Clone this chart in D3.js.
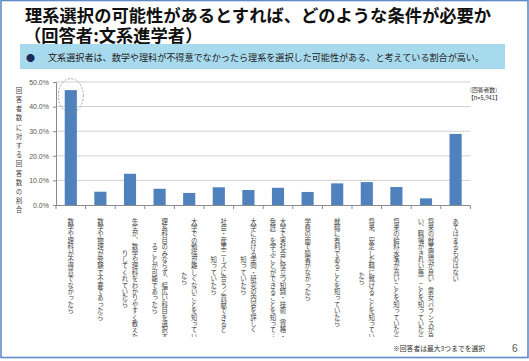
<!DOCTYPE html>
<html><head><meta charset="utf-8">
<script src="https://cdn.jsdelivr.net/npm/d3@7"></script>
<style>
html,body{margin:0;padding:0;background:#fff;}
svg{display:block;font-family:"Noto Sans CJK JP","Noto Sans",sans-serif;}
</style></head>
<body><svg id="c" width="529" height="361"></svg>
<script>
const titleLines = ["理系選択の可能性があるとすれば、どのような条件が必要か", "（回答者:文系進学者）"];
const bulletText = "文系選択者は、数学や理科が不得意でなかったら理系を選択した可能性がある、と考えている割合が高い。";
const yAxisTitle = "回答者数に対する回答数の割合";
const categories = [
  "数学や理科が不得意でなかったら",
  "数学や物理が受験で不要であったら",
  "先生が、数学や理科をわかりやすく教えた|りしてくれていたら",
  "理系科目のみならず、幅広い科目を選択す|ることが可能であったら",
  "大学での勉強が難しくないことを知ってい|たら",
  "社会・産業ニーズに合う／貢献できると|知っていたら",
  "大学における学問・研究の内容を詳しく|知っていたら",
  "大学で実社会に役立つ知識・技術（資格・|免許）を学ぶことができることを知って…",
  "学費の面で障害がなかったら",
  "就職に有利であることを知っていたら",
  "将来、安定した職に就けることを知ってい|たら",
  "将来の給料水準が高いことを知っていたら",
  "将来の就業環境が良い（男女バランスが良|い、職場がきれい等）ことを知っていたら",
  "あてはまるものはない"
];
const values = [46.7, 5.4, 12.7, 6.6, 4.9, 7.2, 6.1, 7.0, 5.3, 8.8, 9.3, 7.3, 2.7, 28.9];
const yTicks = [0, 10, 20, 30, 40, 50];
const noteLines = ["(回答者数)", "【n=5,941】"];
const footnote = "※回答者は最大3つまでを選択";
const pageNum = "6";

const svg = d3.select("#c");

// slide border
svg.append("rect").attr("x",1).attr("y",0.5).attr("width",527).attr("height",357)
  .attr("fill","none").attr("stroke","#5f8bc6").attr("stroke-width",1.6);

// title
svg.append("text").attr("x",25).attr("y",22).attr("font-size",17.3).attr("font-weight","bold")
  .attr("fill","#111").text(titleLines[0]);
svg.append("text").attr("x",24).attr("y",41.5).attr("font-size",17.3).attr("font-weight","bold")
  .attr("fill","#111").text(titleLines[1]);

// bullet box
svg.append("rect").attr("x",20).attr("y",44).attr("width",485).attr("height",25).attr("fill","#a8daee");
svg.append("text").attr("x",26).attr("y",60.5).attr("font-size",9).attr("fill","#1f2a5c").text("●");
svg.append("text").attr("x",48).attr("y",60.5).attr("font-size",9.1).attr("fill","#222").text(bulletText);

// scales
const x = d3.scaleBand().domain(categories).range([56, 470.4]).paddingInner(0.59).paddingOuter(0.295);
const y = d3.scaleLinear().domain([0, 50]).range([205, 82]);

// gridlines
svg.append("g").selectAll("line").data(yTicks.filter(d=>d>0)).join("line")
  .attr("x1",56).attr("x2",470.4).attr("y1",d=>y(d)).attr("y2",d=>y(d))
  .attr("stroke","#d0d0d0").attr("stroke-width",1);

// y axis
const yAxis = svg.append("g").attr("transform","translate(56,0)")
  .call(d3.axisLeft(y).tickValues(yTicks).tickSize(3).tickFormat(d=>d.toFixed(1)+"%"));
yAxis.select(".domain").attr("stroke","#8a8a8a");
yAxis.selectAll(".tick line").attr("stroke","#8a8a8a");
yAxis.selectAll(".tick text").attr("font-size",7).attr("fill","#555").attr("x",-7)
  .attr("font-family","'Liberation Sans',Arial,sans-serif");

// x axis line + ticks at band boundaries
svg.append("line").attr("x1",56).attr("x2",470.4).attr("y1",205.5).attr("y2",205.5).attr("stroke","#8a8a8a");
const step = x.step();
svg.append("g").selectAll("line").data(d3.range(categories.length+1)).join("line")
  .attr("x1",i=>56+i*step).attr("x2",i=>56+i*step).attr("y1",205.5).attr("y2",209)
  .attr("stroke","#8a8a8a");

// bars
svg.append("g").selectAll("rect").data(values).join("rect")
  .attr("x",(d,i)=>x(categories[i])).attr("width",x.bandwidth())
  .attr("y",d=>y(d)).attr("height",d=>y(0)-y(d)).attr("fill","#4f81bd");

// dotted ellipse around first bar top
svg.append("ellipse").attr("cx",x(categories[0])+x.bandwidth()/2).attr("cy",y(values[0])+5.5)
  .attr("rx",12.5).attr("ry",17).attr("fill","none").attr("stroke","#8c8c8c")
  .attr("stroke-width",0.8).attr("stroke-dasharray","2,1.5");

// y axis title (stacked vertical)
svg.append("text").attr("x",19).attr("y",87).attr("font-size",6.5).attr("fill","#444")
  .style("writing-mode","vertical-rl").style("letter-spacing","2.7px").text(yAxisTitle);

// category labels (vertical)
svg.append("clipPath").attr("id","lc").append("rect").attr("x",40).attr("y",210).attr("width",460).attr("height",127);
const pitch = 6.4;
const lab = svg.append("g").attr("clip-path","url(#lc)");
categories.forEach((c,i)=>{
  const cols = c.split("|");
  const cx = x(c) + x.bandwidth()/2;
  const maxLen = d3.max(cols, s=>s.length);
  const cy = 218 + maxLen*pitch/2;
  cols.forEach((s,j)=>{
    lab.append("text").attr("x", cx + (cols.length-1)*5 - j*10).attr("y", cy)
      .attr("font-size",6.4).attr("fill","#444").attr("text-anchor","middle")
      .style("writing-mode","vertical-rl").text(s);
  });
});

// note
svg.append("text").attr("x",470).attr("y",92).attr("font-size",5.8).attr("fill","#333").text(noteLines[0]);
svg.append("text").attr("x",468).attr("y",99.5).attr("font-size",5.8).attr("fill","#333").text(noteLines[1]);

// footnote and page number
svg.append("text").attr("x",393).attr("y",351).attr("font-size",6.8).attr("fill","#333").text(footnote);
svg.append("text").attr("x",512).attr("y",352).attr("font-size",10).attr("fill","#555")
  .attr("font-family","'Liberation Sans',Arial,sans-serif").text(pageNum);
</script></body></html>
